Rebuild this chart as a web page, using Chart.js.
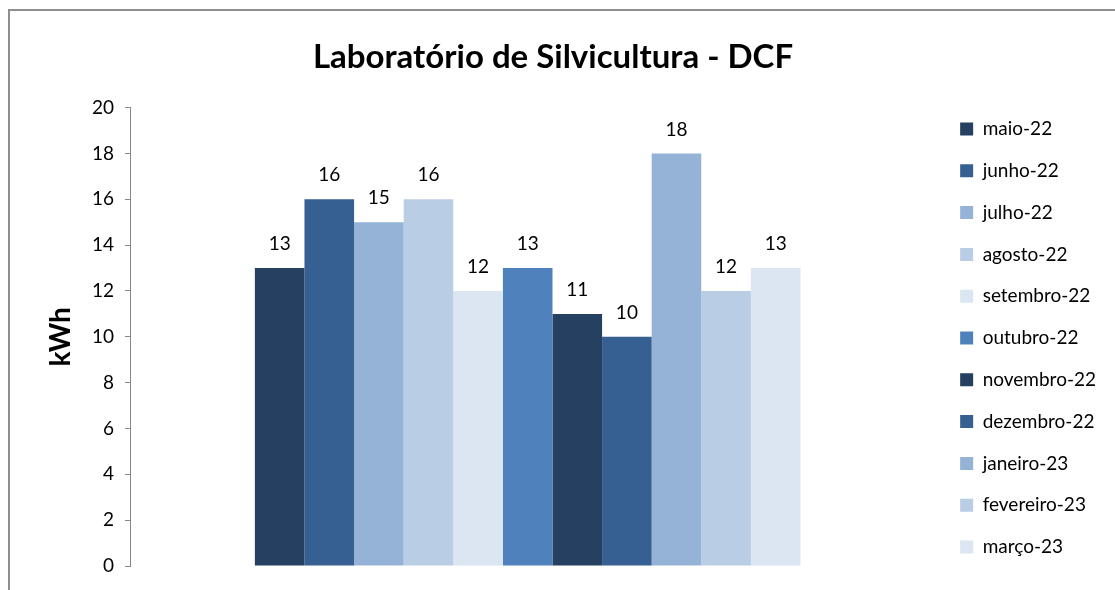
<!DOCTYPE html>
<html>
<head>
<meta charset="utf-8">
<script src="https://cdn.jsdelivr.net/npm/chart.js@4.4.1/dist/chart.umd.min.js"></script>
<style>
  html, body { margin: 0; padding: 0; background: #fff; }
  #wrap { position: relative; width: 1115px; height: 590px; overflow: hidden; }
  #frame { position: absolute; left: 8px; top: 9px; right: -10px; bottom: -10px;
           border-left: 2px solid #8e8e8e; border-top: 2px solid #8e8e8e; }
  #myChart { position: absolute; left: 0; top: 0; }
</style>
</head>
<body>
<div id="wrap">
  <div id="frame"></div>
  <canvas id="myChart" width="1115" height="590"></canvas>
</div>
<script>
const months = ["maio-22", "junho-22", "julho-22", "agosto-22", "setembro-22", "outubro-22",
  "novembro-22", "dezembro-22", "janeiro-23", "fevereiro-23", "março-23"];
const values = [13, 16, 15, 16, 12, 13, 11, 10, 18, 12, 13];
const yTicks = [0, 2, 4, 6, 8, 10, 12, 14, 16, 18, 20];

const colors = ["#254061", "#366092", "#95b3d7", "#b9cde5", "#dce6f2", "#4f81bd",
  "#254061", "#366092", "#95b3d7", "#b9cde5", "#dce6f2"];

const font = "Lato";

// value labels above each bar
const barLabels = {
  id: "barLabels",
  afterDatasetsDraw(chart) {
    const ctx = chart.ctx;
    ctx.save();
    ctx.font = "19px " + font;
    ctx.fillStyle = "#000";
    ctx.textAlign = "center";
    ctx.textBaseline = "middle";
    chart.data.datasets.forEach((ds, i) => {
      chart.getDatasetMeta(i).data.forEach((bar, j) => {
        ctx.fillText(ds.data[j], bar.x, bar.y - 24);
      });
    });
    ctx.restore();
  },
};

const ctx = document.getElementById("myChart").getContext("2d");
const myChart = new Chart(ctx, {
  type: "bar",
  data: {
    labels: [""],
    datasets: months.map((m, i) => ({
      label: m,
      data: [values[i]],
      backgroundColor: colors[i],
      borderWidth: 0,
    })),
  },
  plugins: [barLabels],
  options: {
    responsive: false,
    animation: false,
    events: [],
    categoryPercentage: 0.686,
    barPercentage: 1,
    layout: { padding: { left: 0, right: 9, top: 0, bottom: 0 } },
    plugins: {
      title: {
        display: true,
        text: "Laboratório de Silvicultura - DCF",
        color: "#000",
        font: { family: font, size: 33, weight: "bold", lineHeight: 1.2 },
        padding: { top: 38, bottom: 30 },
      },
      legend: {
        position: "right",
        align: "start",
        title: { display: true, text: " ", font: { size: 10, lineHeight: 1 }, padding: { top: 86.7, bottom: 0 } },
        labels: {
          color: "#000",
          font: { family: font, size: 19 },
          boxWidth: 13,
          boxHeight: 13,
          padding: 22.8,
        },
      },
      tooltip: { enabled: false },
    },
    scales: {
      x: {
        display: true,
        ticks: { display: false },
        grid: { display: false },
        border: { display: false },
        afterFit: (s) => { s.height = 24; },
      },
      y: {
        min: 0,
        max: 20,
        afterBuildTicks: (s) => { s.ticks = yTicks.map((v) => ({ value: v })); },
        ticks: { color: "#000", font: { family: font, size: 19 }, padding: 11 },
        grid: { drawOnChartArea: false, tickLength: 5, color: "#888" },
        border: { color: "#888" },
        title: {
          display: true,
          text: "kWh",
          color: "#000",
          font: { family: font, size: 28, weight: "bold", lineHeight: 1.2 },
          padding: { top: 44, bottom: 0 },
        },
        afterFit: (s) => { s.width = 130; },
      },
      yPad: {
        position: "right",
        display: true,
        ticks: { display: false },
        grid: { display: false },
        border: { display: false },
        afterFit: (s) => { s.width = 12; },
      },
    },
  },
});
</script>
</body>
</html>
